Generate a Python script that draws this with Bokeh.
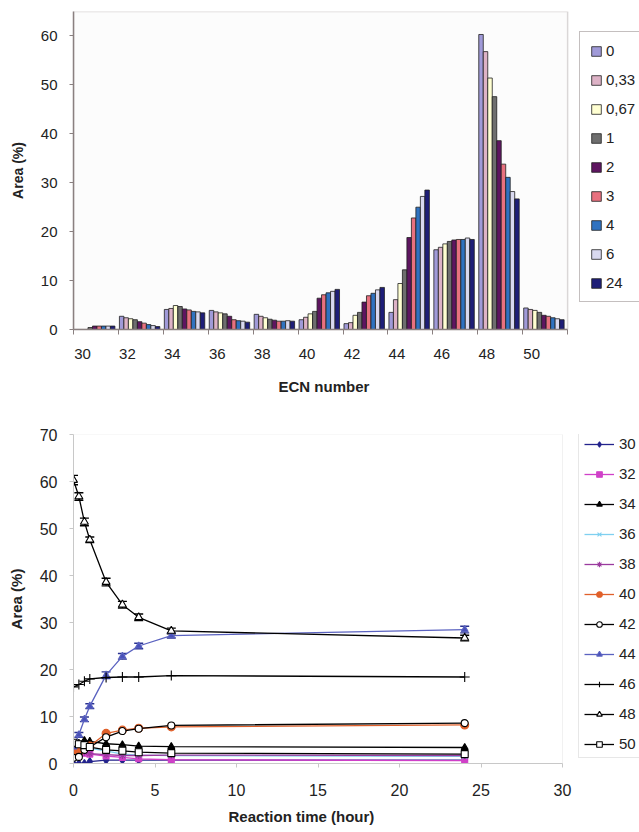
from bokeh.plotting import figure
from bokeh.layouts import column
from bokeh.models import (ColumnDataSource, Legend, LegendItem, FixedTicker,
                          Whisker, TeeHead, CustomJSTickFormatter, BoxAnnotation,
                          Title)
from bokeh.transform import dodge
from bokeh.embed import file_html
from bokeh.resources import INLINE

FONT = "Liberation Sans"

# ---------------- data ----------------
ecn = [30, 32, 34, 36, 38, 40, 42, 44, 46, 48, 50]
hour_labels = ["0", "0,33", "0,67", "1", "2", "3", "4", "6", "24"]
hours = [0, 0.33, 0.67, 1, 2, 3, 4, 6, 24]

a30 = [0.0, 0.0, 0.0, 0.4, 0.7, 0.7, 0.7, 0.7, 0.7]
a32 = [2.7, 2.4, 2.2, 2.0, 1.6, 1.3, 1.0, 0.8, 0.6]
a34 = [4.1, 4.3, 4.9, 4.7, 4.2, 4.0, 3.7, 3.6, 3.4]
a36 = [3.9, 3.6, 3.4, 3.2, 2.7, 2.0, 1.8, 1.7, 1.5]
a38 = [3.1, 2.7, 2.4, 2.1, 1.9, 1.7, 1.7, 1.8, 1.7]
a40 = [2.0, 2.5, 3.2, 3.7, 6.4, 7.1, 7.5, 7.8, 8.2]
a42 = [1.2, 1.4, 2.9, 3.5, 5.6, 6.9, 7.4, 8.1, 8.6]
a44 = [3.5, 6.1, 9.4, 12.2, 18.8, 22.8, 25.0, 27.2, 28.5]
a46 = [16.3, 16.8, 17.5, 18.0, 18.3, 18.4, 18.4, 18.7, 18.4]
a48 = [60.3, 56.8, 51.4, 47.6, 38.6, 33.8, 31.1, 28.2, 26.7]
a50 = [4.4, 4.1, 3.9, 3.5, 2.9, 2.7, 2.4, 2.2, 2.0]

err44 = [0.4, 0.5, 0.5, 0.5, 0.7, 0.6, 0.6, 0.5, 0.7]
err48 = [1.0, 0.8, 0.8, 0.6, 0.8, 0.7, 0.7, 0.6, 0.6]

series = [a30, a32, a34, a36, a38, a40, a42, a44, a46, a48, a50]

# axis extents
x1_lo, x1_hi, y1_hi = 29, 51, 65
x2_hi, y2_hi = 30, 70

# ---------------- top chart ----------------
bar_colors = ["#A09AD8", "#DDB2C6", "#FFFFD2", "#6E6E6E", "#5E1560",
              "#E8717F", "#2F72C0", "#D9D9F0", "#1E1E78"]

top_data = {"ecn": ecn}
for j in range(len(hours)):
    top_data["h%d" % j] = [s[j] for s in series]
src_top = ColumnDataSource(top_data)

# frame spans to the right edge so the legend can sit beside the plot area
p1 = figure(width=639, height=410, x_range=(x1_lo, x1_lo + 567 / 22.5),
            y_range=(0, y1_hi),
            output_backend="svg", toolbar_location=None,
            min_border_left=72, min_border_right=0, min_border_top=11,
            min_border_bottom=81)
p1.background_fill_color = "white"
p1.border_fill_color = "white"
p1.outline_line_color = None
p1.grid.visible = False
p1.add_layout(BoxAnnotation(left=x1_lo, right=x1_hi, bottom=0, top=y1_hi,
                            fill_color="#FCFCFC", fill_alpha=1.0,
                            line_color="#8A8080", line_width=1.5,
                            level="underlay"))

bw = 0.2
items1 = []
for j, lab in enumerate(hour_labels):
    off = -0.856 + bw * j
    r = p1.vbar(x=dodge("ecn", off, range=p1.x_range), top="h%d" % j, width=bw,
                source=src_top, fill_color=bar_colors[j], line_color="#202020",
                line_width=0.8)
    items1.append(LegendItem(label=lab, renderers=[r]))

label_shift = 0.6
p1.xaxis.ticker = FixedTicker(ticks=[e - label_shift for e in ecn],
                              minor_ticks=[e - 1 for e in ecn] + [51])
p1.xaxis.formatter = CustomJSTickFormatter(args=dict(shift=label_shift),
                                           code="return Math.round(tick + shift).toString();")
p1.xaxis.bounds = (x1_lo, x1_hi)
p1.xaxis.major_tick_out = 0
p1.xaxis.major_tick_in = 0
p1.xaxis.minor_tick_out = 5
p1.xaxis.minor_tick_in = 0
p1.yaxis.ticker = FixedTicker(ticks=[0, 10, 20, 30, 40, 50, 60])
p1.yaxis.major_tick_out = 4
p1.yaxis.major_tick_in = 0
p1.yaxis.minor_tick_out = 0
p1.yaxis.minor_tick_in = 0
p1.yaxis.axis_label = "Area (%)"
for ax in [p1.xaxis[0], p1.yaxis[0]]:
    ax.axis_line_color = "#8A8080"
    ax.axis_line_width = 1.5
    ax.major_tick_line_color = "#8A8080"
    ax.minor_tick_line_color = "#8A8080"
    ax.major_label_text_font = FONT
    ax.major_label_text_font_size = "15px"
    ax.major_label_text_color = "#222222"
    ax.axis_label_text_font = FONT
    ax.axis_label_text_font_size = "14px"
    ax.axis_label_text_font_style = "bold"
    ax.axis_label_text_color = "#222222"
p1.xaxis.major_label_standoff = 14
p1.yaxis.major_label_standoff = 12
p1.yaxis.axis_label_standoff = 12

p1.add_layout(Title(text="ECN number", align="left", offset=205, standoff=28,
                    text_font=FONT, text_font_size="15px",
                    text_font_style="bold", text_color="#222222"), "below")

leg1 = Legend(items=items1, location=(506, 27), orientation="vertical",
              glyph_width=12, glyph_height=12, label_height=16,
              spacing=12, padding=10, margin=0, label_standoff=4,
              label_text_font=FONT, label_text_font_size="15px",
              label_text_color="#222222", border_line_color="#8A8080",
              border_line_width=1.2, background_fill_color="white")
p1.add_layout(leg1, "center")

# ---------------- bottom chart ----------------
p2 = figure(width=639, height=422, x_range=(0, 566 / 16.3), y_range=(0, y2_hi),
            output_backend="svg", toolbar_location=None,
            min_border_left=73, min_border_right=0, min_border_top=24,
            min_border_bottom=69)
p2.outline_line_color = None
p2.grid.visible = False
p2.add_layout(BoxAnnotation(left=0, right=x2_hi, bottom=0, top=y2_hi,
                            fill_alpha=0, line_color="#D0D0D0", line_width=1,
                            level="underlay"))

styles = [
    ("30", "#23238C", "diamond", "#23238C", 8),
    ("32", "#D040C8", "square", "#D040C8", 6),
    ("34", "#000000", "triangle", "#000000", 7),
    ("36", "#7FD0F0", "x", "#7FD0F0", 7),
    ("38", "#9A3A9E", "asterisk", "#9A3A9E", 7),
    ("40", "#E0602A", "circle", "#E0602A", 8),
    ("42", "#000000", "circle", "white", 7),
    ("44", "#5A62C0", "triangle", "#4850B8", 7),
    ("46", "#000000", "cross", "#000000", 10),
    ("48", "#000000", "triangle", "white", 8),
    ("50", "#000000", "square", "white", 7),
]

items2 = []
for s, (lab, col, mk, fill, size) in zip(series, styles):
    src = ColumnDataSource({"t": hours, "a": s})
    ln = p2.line("t", "a", source=src, line_color=col, line_width=1.3)
    lc = "#000000" if fill == "white" else col
    sc = p2.scatter("t", "a", source=src, marker=mk, size=size,
                    fill_color=fill, line_color=lc, line_width=1.1)
    items2.append(LegendItem(label=lab, renderers=[ln, sc]))

for s, e, col in [(a48, err48, "#000000"), (a44, err44, "#2A3290")]:
    esrc = ColumnDataSource({"t": hours,
                             "lo": [v - d for v, d in zip(s, e)],
                             "hi": [v + d for v, d in zip(s, e)]})
    w = Whisker(base="t", lower="lo", upper="hi", source=esrc,
                dimension="height", line_color=col, line_width=1.2,
                upper_head=TeeHead(size=9, line_color=col, line_width=1.4),
                lower_head=TeeHead(size=9, line_color=col, line_width=1.4))
    p2.add_layout(w)

p2.xaxis.ticker = FixedTicker(ticks=[0, 5, 10, 15, 20, 25, 30])
p2.yaxis.ticker = FixedTicker(ticks=[0, 10, 20, 30, 40, 50, 60, 70])
p2.xaxis.bounds = (0, x2_hi)
p2.yaxis.axis_label = "Area (%)"
for ax in [p2.xaxis[0], p2.yaxis[0]]:
    ax.axis_line_color = "#C8C8C8"
    ax.axis_line_width = 1
    ax.major_tick_line_color = "#C8C8C8"
    ax.major_tick_out = 4
    ax.major_tick_in = 0
    ax.minor_tick_out = 0
    ax.minor_tick_in = 0
    ax.major_label_text_font = FONT
    ax.major_label_text_font_size = "16px"
    ax.major_label_text_color = "#222222"
    ax.axis_label_text_font = FONT
    ax.axis_label_text_font_size = "15px"
    ax.axis_label_text_font_style = "bold"
    ax.axis_label_text_color = "#222222"
p2.xaxis.major_label_standoff = 16
p2.yaxis.major_label_standoff = 12
p2.yaxis.axis_label_standoff = 12

p2.add_layout(Title(text="Reaction time (hour)", align="left", offset=155,
                    standoff=14, text_font=FONT, text_font_size="15px",
                    text_font_style="bold", text_color="#222222"), "below")

leg2 = Legend(items=items2, location=(505, 5), orientation="vertical",
              glyph_width=30, glyph_height=14, label_height=16,
              spacing=13, padding=5, margin=0, label_standoff=5,
              label_text_font=FONT, label_text_font_size="15px",
              label_text_color="#222222", border_line_color="#D0D0D0",
              border_line_width=1, background_fill_color="white")
p2.add_layout(leg2, "center")

layout = column(p1, p2, spacing=0)
open("out.html", "w").write(file_html(layout, INLINE))
